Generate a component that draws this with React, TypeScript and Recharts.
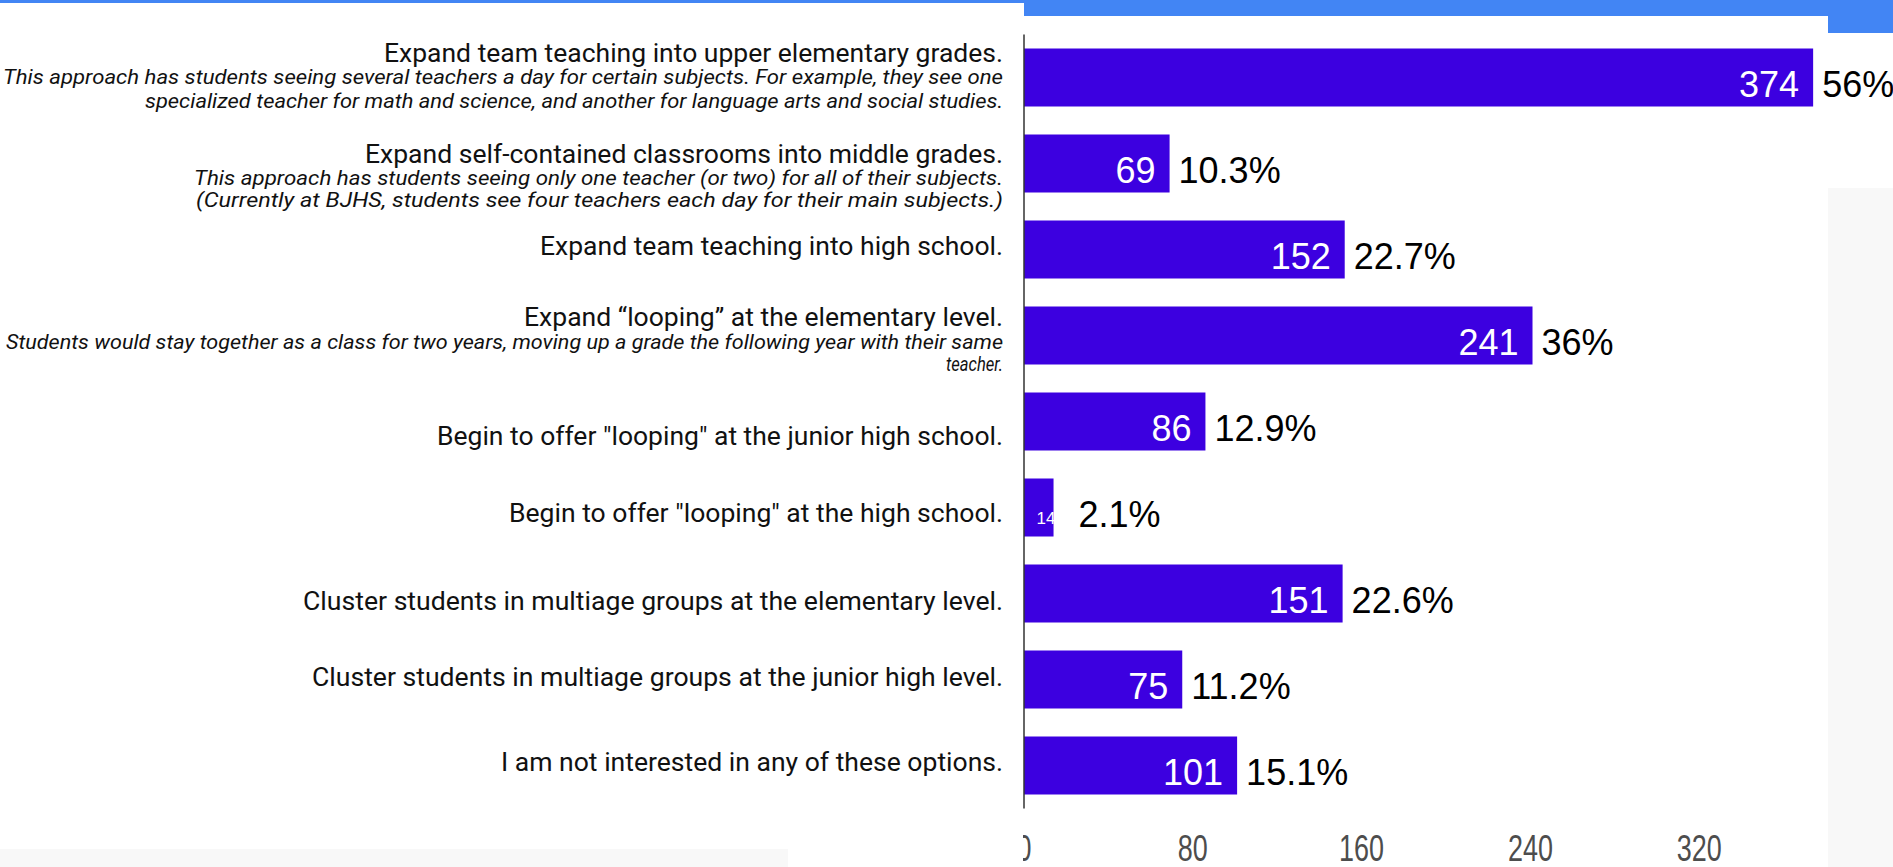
import React from "react";
import { BarChart, Bar, XAxis, YAxis, LabelList } from "recharts";

// survey options (top to bottom)
const OPTIONS = [
  "Expand team teaching into upper elementary grades.",
  "Expand self-contained classrooms into middle grades.",
  "Expand team teaching into high school.",
  "Expand \u201clooping\u201d at the elementary level.",
  'Begin to offer "looping" at the junior high school.',
  'Begin to offer "looping" at the high school.',
  "Cluster students in multiage groups at the elementary level.",
  "Cluster students in multiage groups at the junior high level.",
  "I am not interested in any of these options.",
];

const NOTES: string[][] = [
  [
    "This approach has students seeing several teachers a day for certain subjects. For example, they see one",
    "specialized teacher for math and science, and another for language arts and social studies.",
  ],
  [
    "This approach has students seeing only one teacher (or two) for all of their subjects.",
    "(Currently at BJHS, students see four teachers each day for their main subjects.)",
  ],
  [],
  [
    "Students would stay together as a class for two years, moving up a grade the following year with their same",
    "teacher.",
  ],
  [],
  [],
  [],
  [],
  [],
];

const COUNTS = [374, 69, 152, 241, 86, 14, 151, 75, 101];
const PERCENTS = ["56%", "10.3%", "22.7%", "36%", "12.9%", "2.1%", "22.6%", "11.2%", "15.1%"];
const X_TICKS = [0, 80, 160, 240, 320];

// text layout of the label column: baseline offsets from the band centre, and text widths
const LABEL_DY = [[-15.5, 6, 30], [-0.5, 21, 43.5], [5], [-9.5, 13, 35.5], [23.5], [14.5], [16.5], [6.5], [5.5]];
const LABEL_LEN = [[619, 1000, 858], [638, 809, 807], [463], [479, 997, 57], [566], [494], [700], [691], [502]];

const BAR_COLOR = "#3c00e0";
const BLUE = "#4285f4";

const data = OPTIONS.map((label, i) => ({
  label,
  count: COUNTS[i],
  pct: PERCENTS[i],
  idx: i,
}));

function OptionTick(props: any) {
  const { x, y, payload } = props;
  const i = OPTIONS.indexOf(payload.value);
  if (i < 0) return null;
  const lines = [payload.value, ...NOTES[i]];
  return (
    <g>
      {lines.map((t, k) => (
        <text
          key={k}
          x={x}
          y={y + LABEL_DY[i][k]}
          textAnchor="end"
          fontFamily="Roboto"
          fontSize={k === 0 ? 26 : 19.5}
          fontStyle={k === 0 ? "normal" : "italic"}
          fill="#111"
          textLength={LABEL_LEN[i][k]}
          lengthAdjust="spacingAndGlyphs"
        >
          {t}
        </text>
      ))}
    </g>
  );
}

function CountTick(props: any) {
  const { x, y, payload } = props;
  const s = String(payload.value);
  return (
    <g>
      {payload.value === 0 && (
        <defs>
          <clipPath id="zeroClip">
            <rect x={x - 1} y={y} width={40} height={80} />
          </clipPath>
        </defs>
      )}
      <text
        x={x}
        y={y + 52}
        textAnchor="middle"
        fontFamily="Liberation Sans"
        fontSize={37}
        fill="#4d4d4d"
        textLength={s.length * 15}
        lengthAdjust="spacingAndGlyphs"
        clipPath={payload.value === 0 ? "url(#zeroClip)" : undefined}
      >
        {s}
      </text>
    </g>
  );
}

function BarLabels(props: any) {
  const { x, y, width, height, index } = props;
  const cy = y + height / 2;
  const end = x + width;
  const small = width < 40;
  return (
    <g fontFamily="Liberation Sans">
      <text
        x={small ? end + 2 : end - 14}
        y={cy + (small ? 16 : 19)}
        textAnchor="end"
        fontSize={small ? 17 : 36}
        fill="#fff"
      >
        {COUNTS[index]}
      </text>
      <text x={end + (small ? 25 : 9)} y={cy + 19} textAnchor="start" fontSize={36} fill="#000">
        {PERCENTS[index]}
      </text>
    </g>
  );
}

export default function App() {
  return (
    <div
      style={{
        position: "absolute",
        left: 0,
        top: 0,
        width: 1893,
        height: 867,
        background: "#fff",
        overflow: "hidden",
      }}
    >
      <div style={{ position: "absolute", left: 0, top: 0, width: 1024, height: 3, background: BLUE }} />
      <div style={{ position: "absolute", left: 1024, top: 0, width: 869, height: 16, background: BLUE }} />
      <div style={{ position: "absolute", left: 1828, top: 0, width: 65, height: 33, background: BLUE }} />
      <div style={{ position: "absolute", left: 1828, top: 188, width: 65, height: 679, background: "#f8f8f8" }} />
      <div style={{ position: "absolute", left: 0, top: 849, width: 788, height: 18, background: "#f8f8f8" }} />
      <div style={{ position: "absolute", left: 0, top: 0 }}>
        <BarChart
          width={1893}
          height={867}
          data={data}
          layout="vertical"
          margin={{ top: 34.5, right: 25, bottom: 0, left: 0 }}
          barCategoryGap={0}
        >
          <XAxis
            type="number"
            domain={[0, 400]}
            ticks={X_TICKS}
            axisLine={false}
            tickLine={false}
            tickSize={0}
            tickMargin={0}
            height={58.5}
            tick={<CountTick />}
            interval={0}
          />
          <YAxis
            type="category"
            dataKey="label"
            width={1024}
            axisLine={{ stroke: "#333", strokeWidth: 1.5 }}
            tickLine={false}
            tickSize={0}
            tickMargin={21}
            tick={<OptionTick />}
            interval={0}
          />
          <Bar dataKey="count" fill={BAR_COLOR} barSize={58} isAnimationActive={false}>
            <LabelList dataKey="count" content={<BarLabels />} />
          </Bar>
        </BarChart>
      </div>
    </div>
  );
}
